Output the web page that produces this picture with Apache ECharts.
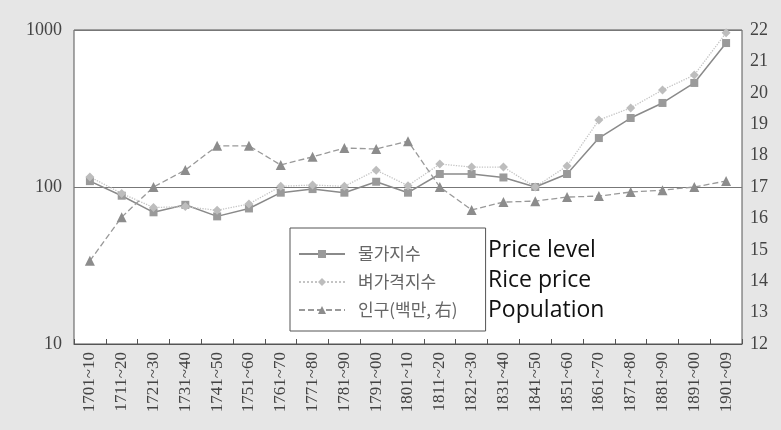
<!DOCTYPE html>
<html>
<head>
<meta charset="utf-8">
<script src="https://cdn.jsdelivr.net/npm/echarts@6/dist/echarts.min.js"></script>
<style>
  html, body { margin: 0; padding: 0; background: #e6e6e6; }
  #chart { width: 781px; height: 430px; }
</style>
</head>
<body>
<div id="chart"></div>
<script>
// decades on the x axis
const decades = [
  '1701~10', '1711~20', '1721~30', '1731~40', '1741~50', '1751~60', '1761~70',
  '1771~80', '1781~90', '1791~00', '1801~10', '1811~20', '1821~30', '1831~40',
  '1841~50', '1851~60', '1861~70', '1871~80', '1881~90', '1891~00', '1901~09'
];

// 물가지수 (price level, log scale)
const priceLevel = [109, 88, 69, 77, 65, 73, 92, 97, 92, 108, 92, 121, 121, 115, 100, 121, 205, 275, 343, 460, 826];
// 벼가격지수 (rice price, log scale)
const ricePrice = [116, 91, 74, 75, 71, 78, 101, 103, 101, 128, 102, 140, 134, 134, 100, 136, 267, 319, 415, 517, 960];
// 인구 (population, millions, right axis)
const population = [14.65, 16.04, 17.0, 17.54, 18.31, 18.31, 17.7, 17.96, 18.24, 18.21, 18.46, 17.0, 16.27, 16.52, 16.55, 16.68, 16.71, 16.84, 16.9, 17.0, 17.19];

const leftTicks = [10, 100, 1000];
const rightMin = 12, rightMax = 22;

const names = ['물가지수', '벼가격지수', '인구(백만, 右)'];
const englishNames = ['Price level', 'Rice price', 'Population'];

const serif = '"Liberation Serif", "DejaVu Serif", serif';

const chart = echarts.init(document.getElementById('chart'));

const option = {
  backgroundColor: '#e6e6e6',
  animation: false,
  grid: {
    left: 74, top: 30, right: 39, bottom: 86,
    show: true,
    backgroundColor: '#ffffff',
    borderColor: '#555',
    borderWidth: 1
  },
  legend: {
    data: names,
    orient: 'vertical',
    left: 290,
    top: 228,
    padding: [16, 28, 11, 8],
    itemGap: 8,
    itemWidth: 46,
    itemHeight: 10,
    backgroundColor: '#ffffff',
    borderColor: '#555',
    borderWidth: 1,
    textStyle: {
      color: '#666',
      fontSize: 17,
      lineHeight: 20,
      fontFamily: '"Noto Sans CJK KR", sans-serif',
      padding: [0, 0, 0, 8]
    }
  },
  graphic: englishNames.map((t, i) => ({
    type: 'text',
    left: 488,
    top: 239 + i * 30,
    style: {
      text: t,
      fontSize: 23,
      fontFamily: '"Open Sans", Lato, sans-serif',
      fill: '#111'
    }
  })),
  xAxis: {
    type: 'category',
    data: decades,
    boundaryGap: true,
    axisLine: { show: true, lineStyle: { color: '#555' } },
    axisTick: { show: true, inside: true, length: 5, lineStyle: { color: '#555' } },
    axisLabel: {
      rotate: 90,
      margin: 8,
      interval: 0,
      color: '#444',
      fontSize: 17,
      fontFamily: serif
    }
  },
  yAxis: [
    {
      type: 'log',
      logBase: 10,
      min: leftTicks[0],
      max: leftTicks[leftTicks.length - 1],
      axisLine: { show: false },
      axisTick: { show: false },
      splitLine: { show: true, lineStyle: { color: '#777', width: 1.2 } },
      axisLabel: {
        color: '#444', fontSize: 18, fontFamily: serif, margin: 12,
        formatter: (v) => String(Math.round(v))
      }
    },
    {
      type: 'value',
      min: rightMin,
      max: rightMax,
      interval: 1,
      position: 'right',
      axisLine: { show: false },
      axisTick: { show: false },
      splitLine: { show: false },
      axisLabel: { color: '#444', fontSize: 18, fontFamily: serif, margin: 8 }
    }
  ],
  series: [
    {
      name: names[0],
      type: 'line',
      yAxisIndex: 0,
      data: priceLevel,
      symbol: 'rect',
      symbolSize: 8,
      itemStyle: { color: '#9a9a9a' },
      lineStyle: { color: '#8a8a8a', width: 1.5, type: 'solid' }
    },
    {
      name: names[1],
      type: 'line',
      yAxisIndex: 0,
      data: ricePrice,
      symbol: 'diamond',
      symbolSize: 9,
      itemStyle: { color: '#bdbdbd' },
      lineStyle: { color: '#c4c4c4', width: 1.3, type: 'dotted' }
    },
    {
      name: names[2],
      type: 'line',
      yAxisIndex: 1,
      data: population,
      symbol: 'triangle',
      symbolSize: 10,
      itemStyle: { color: '#8c8c8c' },
      lineStyle: { color: '#999', width: 1.3, type: [6, 3] }
    }
  ]
};

chart.setOption(option);
</script>
</body>
</html>
